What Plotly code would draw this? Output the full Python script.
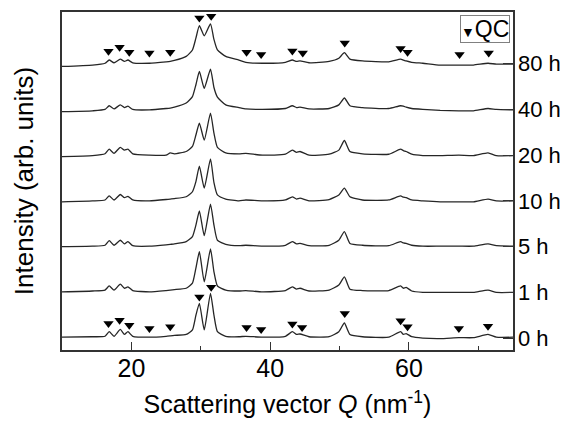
import plotly.graph_objects as go

# Scattering vector grid (nm^-1)
Q = [10, 14.4, 16.2, 16.8, 17.5, 18.4, 19.0, 19.5, 20.2, 22.6, 25.0, 25.6, 26.2, 27.9,
     28.8, 29.3, 29.8, 30.5, 31.4, 31.9, 32.4, 33.6, 35.5, 36.5, 38.9, 42.2, 43.2, 43.8,
     44.3, 45.6, 48.5, 49.9, 50.7, 51.5, 53.3, 57.1, 58.8, 59.2, 59.6, 60.4, 62.0, 64.5,
     67.2, 69.3, 71.4, 72.6, 75]

# Intensities (arb. units), relative to each curve's own baseline
I_0h = [0.02, 0.03, 0.04, 0.14, 0.04, 0.19, 0.08, 0.14, 0.04, 0.02, 0.04, 0.05, 0.06, 0.08,
        0.18, 0.50, 0.76, 0.18, 0.98, 0.50, 0.14, 0.04, 0.03, 0.04, 0.02, 0.04, 0.14, 0.08,
        0.09, 0.03, 0.03, 0.14, 0.33, 0.08, 0.03, 0.02, 0.14, 0.08, 0.10, 0.03, 0.00, -0.01,
        0.01, 0.01, 0.08, 0.02, 0.02]
I_1h = [0.01, 0.03, 0.05, 0.14, 0.05, 0.18, 0.09, 0.12, 0.04, 0.01, 0.04, 0.05, 0.06, 0.09,
        0.20, 0.53, 0.89, 0.23, 0.95, 0.45, 0.14, 0.05, 0.03, 0.04, 0.01, 0.04, 0.12, 0.07,
        0.09, 0.03, 0.05, 0.16, 0.34, 0.07, 0.04, 0.04, 0.14, 0.09, 0.11, 0.03, 0.00, 0.00,
        0.00, 0.00, 0.05, 0.00, 0.00]
I_5h = [0.00, 0.01, 0.03, 0.13, 0.03, 0.14, 0.06, 0.11, 0.02, 0.01, 0.04, 0.05, 0.06, 0.11,
        0.22, 0.47, 0.78, 0.24, 0.93, 0.47, 0.14, 0.05, 0.02, 0.03, 0.01, 0.03, 0.11, 0.06,
        0.07, 0.02, 0.03, 0.14, 0.33, 0.07, 0.03, 0.02, 0.11, 0.08, 0.07, 0.03, 0.01, 0.01,
        0.01, 0.01, 0.06, 0.02, 0.01]
I_10h = [-0.02, 0.00, 0.02, 0.11, 0.02, 0.14, 0.07, 0.10, 0.02, 0.00, 0.03, 0.04, 0.05, 0.09,
         0.20, 0.42, 0.76, 0.28, 0.92, 0.40, 0.13, 0.04, 0.00, 0.02, 0.00, 0.02, 0.09, 0.04,
         0.06, 0.00, 0.03, 0.13, 0.28, 0.09, 0.02, 0.02, 0.11, 0.08, 0.07, 0.02, 0.00, -0.02,
         -0.02, -0.02, 0.04, 0.00, 0.00]
I_20h = [-0.03, -0.01, 0.03, 0.13, 0.04, 0.17, 0.11, 0.13, 0.03, 0.00, 0.00, 0.05, 0.03, 0.08,
         0.19, 0.44, 0.70, 0.33, 0.92, 0.48, 0.17, 0.05, 0.03, 0.04, 0.00, 0.02, 0.11, 0.06,
         0.08, 0.00, 0.02, 0.11, 0.32, 0.08, 0.03, 0.02, 0.13, 0.10, 0.08, 0.02, -0.01, -0.01,
         0.00, -0.01, 0.05, -0.01, -0.01]
I_40h = [-0.05, -0.03, 0.00, 0.08, 0.01, 0.10, 0.04, 0.07, 0.00, -0.01, 0.02, 0.03, 0.05, 0.14,
         0.28, 0.54, 0.83, 0.46, 0.88, 0.48, 0.27, 0.10, 0.04, 0.01, 0.00, 0.02, 0.08, 0.04,
         0.05, 0.01, 0.02, 0.10, 0.25, 0.08, 0.04, 0.02, 0.08, 0.07, 0.05, 0.02, 0.00, -0.02,
         -0.03, -0.03, 0.02, 0.00, -0.01]
I_80h = [-0.06, -0.03, 0.01, 0.08, 0.02, 0.10, 0.05, 0.08, 0.02, 0.01, 0.04, 0.05, 0.07, 0.16,
         0.30, 0.56, 0.83, 0.61, 0.87, 0.53, 0.30, 0.16, 0.08, 0.03, 0.01, 0.03, 0.08, 0.05,
         0.06, 0.02, 0.05, 0.12, 0.24, 0.10, 0.06, 0.04, 0.10, 0.08, 0.06, 0.03, 0.01, -0.03,
         -0.03, -0.03, 0.01, -0.01, -0.01]

labels = ["0 h", "1 h", "5 h", "10 h", "20 h", "40 h", "80 h"]
series = [I_0h, I_1h, I_5h, I_10h, I_20h, I_40h, I_80h]

# QC reflection markers (position, height above the curve baseline)
qc_Q_top = [16.7, 18.3, 19.7, 22.6, 25.6, 29.8, 31.5, 36.6, 38.7, 43.2, 44.7, 50.75, 58.8, 59.8, 67.3, 71.5]
qc_h_top = [0.27, 0.36, 0.25, 0.235, 0.25, 1.00, 1.035, 0.25, 0.20, 0.28, 0.235, 0.45, 0.33, 0.25, 0.20, 0.235]
qc_Q_bot = [16.7, 18.3, 19.7, 22.6, 25.6, 29.8, 31.5, 36.6, 38.7, 43.2, 44.6, 50.75, 58.8, 59.8, 67.2, 71.4]
qc_h_bot = [0.32, 0.39, 0.28, 0.21, 0.25, 0.90, 1.11, 0.23, 0.19, 0.31, 0.23, 0.54, 0.38, 0.25, 0.21, 0.26]

FONT = "Liberation Sans, Arial, sans-serif"
LINE = "#262626"

fig = go.Figure()
for k, (lab, ys) in enumerate(zip(labels, series)):
    fig.add_trace(go.Scatter(x=Q, y=[v + k for v in ys], mode="lines", name=lab,
                             line=dict(color=LINE, width=1.3, shape="spline", smoothing=0.5),
                             showlegend=False, hoverinfo="skip"))

top_off = len(labels) - 1
fig.add_trace(go.Scatter(x=qc_Q_top, y=[h + top_off for h in qc_h_top], mode="markers",
                         name="QC", yaxis="y2", showlegend=False,
                         marker=dict(symbol="triangle-down", size=9, color="black")))
fig.add_trace(go.Scatter(x=qc_Q_bot, y=qc_h_bot, mode="markers", name="QC",
                         yaxis="y2", showlegend=False,
                         marker=dict(symbol="triangle-down", size=9, color="black")))

yr = [-0.26, 7.13]
fig.update_layout(
    width=565, height=421,
    margin=dict(l=62, r=52, t=12, b=71, autoexpand=False),
    paper_bgcolor="white", plot_bgcolor="white",
    font=dict(family=FONT, color="black"),
    xaxis=dict(range=[10, 75], tickmode="array", tickvals=[20, 40, 60],
               ticks="inside", ticklen=8, tickwidth=1.3, tickcolor="#333",
               minor=dict(tickmode="array", tickvals=[30, 50, 70], ticks="inside",
                          ticklen=4, tickwidth=1.3, tickcolor="#333"),
               showline=True, linecolor="#333", linewidth=1.6, mirror=True,
               showgrid=False, zeroline=False, automargin=False,
               ticklabelstandoff=-5,
               tickfont=dict(size=25, family=FONT),
               title=dict(text="Scattering vector <i>Q</i> (nm<sup>-1</sup>)",
                          font=dict(size=25, family=FONT), standoff=15)),
    yaxis=dict(range=yr, showticklabels=False, ticks="", showgrid=False,
               zeroline=False, showline=True, linecolor="#333", linewidth=1.6,
               mirror=True, automargin=False,
               title=dict(text="Intensity (arb. units)", font=dict(size=26, family=FONT),
                          standoff=19)),
    yaxis2=dict(range=yr, overlaying="y", side="right", tickmode="array",
                tickvals=list(range(len(labels))), ticktext=labels,
                ticks="inside", ticklen=10, tickwidth=1.3, tickcolor="#333",
                showgrid=False, zeroline=False, showline=False, automargin=False,
                ticklabelstandoff=4,
                tickfont=dict(size=22, family=FONT)),
    annotations=[dict(xref="paper", yref="paper", x=1 - 3 / 451, y=1 - 3 / 338,
                      xanchor="right", yanchor="top", showarrow=False,
                      text='<span style="font-size:14px">▼</span>QC',
                      font=dict(size=23, family=FONT, color="black"),
                      bordercolor="#808080", borderwidth=1, borderpad=0,
                      bgcolor="white")],
)

fig.write_html("out.html", config={"displayModeBar": False},
               post_script="document.body.style.margin='0';")
